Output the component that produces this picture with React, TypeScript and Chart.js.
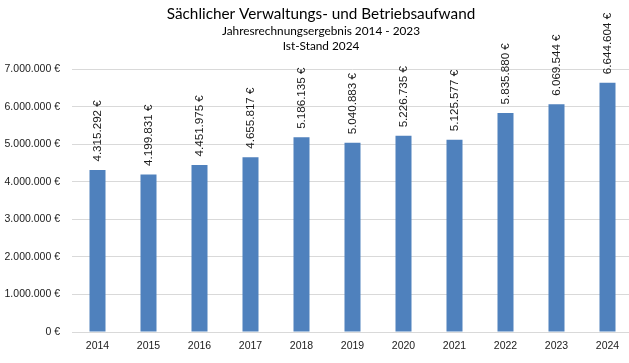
import React, { useEffect, useRef } from "react";
import { Chart, registerables } from "chart.js";

Chart.register(...registerables);

const years = ["2014", "2015", "2016", "2017", "2018", "2019", "2020", "2021", "2022", "2023", "2024"];
const amounts = [4315292, 4199831, 4451975, 4655817, 5186135, 5040883, 5226735, 5125577, 5835880, 6069544, 6644604];
const titleText = "Sächlicher Verwaltungs- und Betriebsaufwand";
const subtitleLines = ["Jahresrechnungsergebnis 2014 - 2023", "Ist-Stand 2024"];

const fmt = (v: number) => String(Math.round(v)).replace(/\B(?=(\d{3})+(?!\d))/g, ".") + " €";

const labelPlugin = {
  id: "barLabels",
  afterDatasetsDraw(chart: any) {
    const ctx = chart.ctx;
    const meta = chart.getDatasetMeta(0);
    ctx.save();
    ctx.font = "11.6px 'Liberation Sans', Arial, sans-serif";
    ctx.fillStyle = "#1a1a1a";
    ctx.textAlign = "left";
    ctx.textBaseline = "middle";
    meta.data.forEach((bar: any, i: number) => {
      ctx.save();
      ctx.translate(bar.x, bar.y - 8.5);
      ctx.rotate(-Math.PI / 2);
      ctx.fillText(fmt(amounts[i]), 0, 0);
      ctx.restore();
    });
    ctx.restore();
  },
};

const titlePlugin = {
  id: "titles",
  afterDraw(chart: any) {
    const ctx = chart.ctx;
    const cx = 321;
    ctx.save();
    ctx.fillStyle = "#000";
    ctx.textAlign = "center";
    ctx.textBaseline = "middle";
    ctx.font = "15.3px Lato, 'Open Sans', sans-serif";
    ctx.fillText(titleText, cx, 14);
    ctx.font = "11.8px Lato, 'Open Sans', sans-serif";
    ctx.fillText(subtitleLines[0], cx, 31);
    ctx.fillText(subtitleLines[1], cx, 46);
    ctx.restore();
  },
};

export default function App() {
  const ref = useRef<HTMLCanvasElement | null>(null);
  useEffect(() => {
    if (!ref.current) return;
    const chart = new Chart(ref.current, {
      type: "bar",
      data: {
        labels: years,
        datasets: [
          {
            data: amounts,
            backgroundColor: "#4f81bd",
            categoryPercentage: 1,
            barPercentage: 0.314,
          },
        ],
      },
      options: {
        animation: false,
        responsive: false,
        maintainAspectRatio: false,
        devicePixelRatio: 1,
        layout: { padding: { top: 69.3, left: 0, right: 0, bottom: 0 } },
        plugins: {
          legend: { display: false },
          title: { display: false },
          tooltip: { enabled: false },
        },
        scales: {
          x: {
            grid: { display: false, drawTicks: false },
            border: { display: true, color: "#d9d9d9", width: 1 },
            ticks: {
              color: "#1a1a1a",
              font: { family: "'Liberation Sans', Arial, sans-serif", size: 10.5 },
              padding: 8,
              maxRotation: 0,
            },
            afterFit(scale: any) {
              scale.height = 31;
            },
          },
          y: {
            min: 0,
            max: 7000000,
            grid: { color: "#d9d9d9", drawTicks: false },
            border: { display: false },
            ticks: {
              stepSize: 1000000,
              color: "#1a1a1a",
              font: { family: "'Liberation Sans', Arial, sans-serif", size: 10.5 },
              padding: 12,
              callback: (v: any) => fmt(Number(v)),
            },
            afterFit(scale: any) {
              scale.width = 72;
            },
          },
        },
      },
      plugins: [labelPlugin, titlePlugin],
    });
    return () => chart.destroy();
  }, []);
  return (
    <div style={{ position: "fixed", left: 0, top: 0, width: 633, height: 363, background: "#fff" }}>
      <canvas ref={ref} width={633} height={363} style={{ display: "block" }} />
    </div>
  );
}
